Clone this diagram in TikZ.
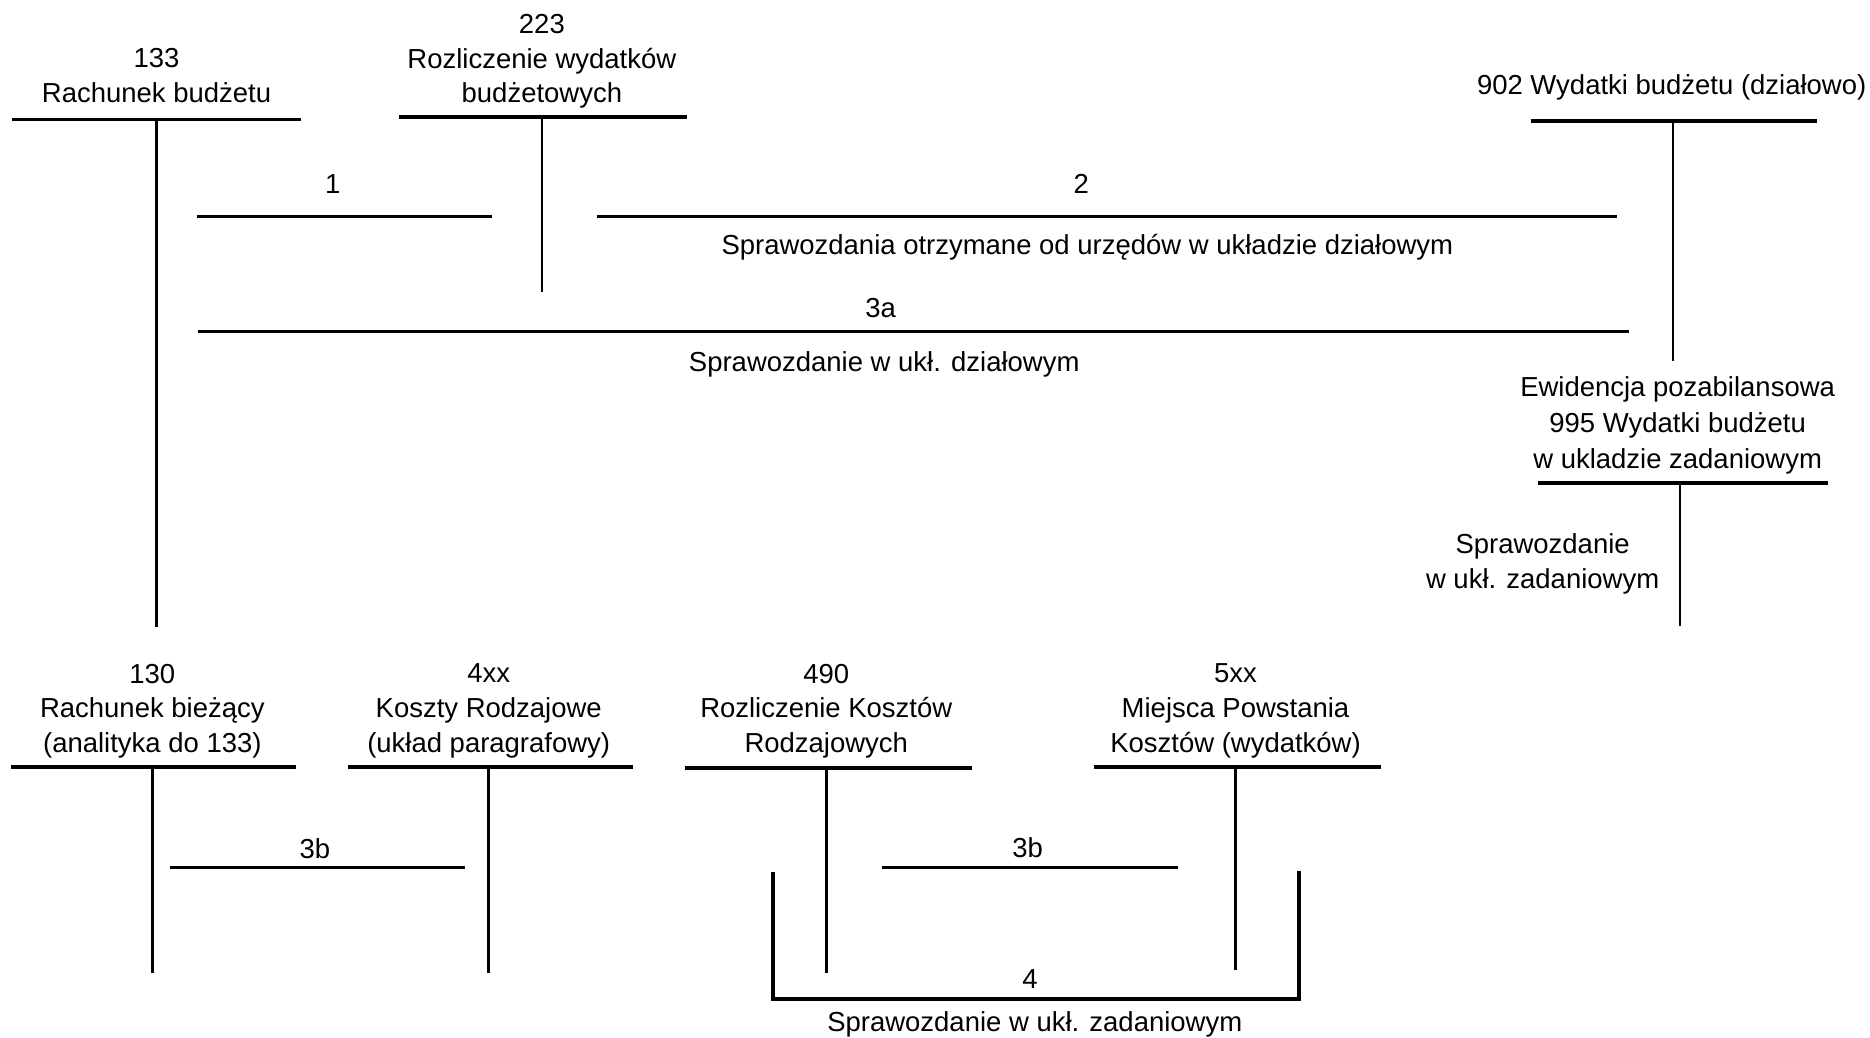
\documentclass[tikz,border=0pt]{standalone}
\usepackage{fontspec}
\setmainfont{Liberation Sans}
\begin{document}
\begin{tikzpicture}[x=1pt,y=-1pt,
  txt/.style={inner sep=0pt, align=center, font=\fontsize{23}{29}\selectfont},
  tbar/.style={line width=3.1pt},
  tstem/.style={line width=2.2pt},
  flow/.style={line width=2.8pt}]
\useasboundingbox (0,0) rectangle (1565,868);
% ---------- titles ----------
\node[txt] (t133) at (131,63) {133\\Rachunek budżetu};
\node[txt] (t223) at (453.5,51.5) {223\\Rozliczenie wydatków\\budżetowych};
\node[txt] (t902) at (1399,73) {902 Wydatki budżetu (działowo)};
\node[txt, font=\fontsize{23}{30}\selectfont] (t995) at (1404,356) {Ewidencja pozabilansowa\\995 Wydatki budżetu\\w ukladzie zadaniowym};
\node[txt] (t130) at (127.5,595) {130\\Rachunek bieżący\\(analityka do 133)};
\node[txt] (t4xx) at (409,595) {4xx\\Koszty Rodzajowe\\(układ paragrafowy)};
\node[txt] (t490) at (691.5,595) {490\\Rozliczenie Kosztów\\Rodzajowych};
\node[txt] (t5xx) at (1034,595) {5xx\\Miejsca Powstania\\Kosztów (wydatków)};
% ---------- T-account coordinates ----------
\coordinate (a133L) at (10,100);   \coordinate (a133R) at (252,100);
\coordinate (a133T) at (131,100);  \coordinate (a133B) at (131,525);
\coordinate (a223L) at (334,98);   \coordinate (a223R) at (575,98);
\coordinate (a223T) at (453.5,98); \coordinate (a223B) at (453.5,244);
\coordinate (a902L) at (1281,101); \coordinate (a902R) at (1521,101);
\coordinate (a902T) at (1400,101); \coordinate (a902B) at (1400,302);
\coordinate (a995L) at (1287,404.5); \coordinate (a995R) at (1530,404.5);
\coordinate (a995T) at (1406,404.5); \coordinate (a995B) at (1406,524);
\coordinate (a130L) at (9,642);    \coordinate (a130R) at (248,642);
\coordinate (a130T) at (127.5,642); \coordinate (a130B) at (127.5,814);
\coordinate (a4xxL) at (291.5,642); \coordinate (a4xxR) at (530,642);
\coordinate (a4xxT) at (409,642);  \coordinate (a4xxB) at (409,814);
\coordinate (a490L) at (573,642.5); \coordinate (a490R) at (813.5,642.5);
\coordinate (a490T) at (691.5,642.5); \coordinate (a490B) at (691.5,814);
\coordinate (a5xxL) at (915.7,642); \coordinate (a5xxR) at (1155.6,642);
\coordinate (a5xxT) at (1034,642); \coordinate (a5xxB) at (1034,812);
\foreach \a in {133,223,902,995,130,4xx,490,5xx}{
  \draw[tbar] (a\a L) -- (a\a R);
  \draw[tstem] (a\a T) -- (a\a B);
}
% ---------- flows ----------
\coordinate (f1a) at (165,181);   \coordinate (f1b) at (412,181);
\coordinate (f2a) at (500,181);   \coordinate (f2b) at (1353,181);
\coordinate (f3aa) at (166,277.5); \coordinate (f3ab) at (1363,277.5);
\coordinate (f3ba) at (142.5,726); \coordinate (f3bb) at (389,726);
\coordinate (f3ca) at (738,726);   \coordinate (f3cb) at (986,726);
\coordinate (f4a) at (647,730);   \coordinate (f4b) at (647,836);
\coordinate (f4c) at (1087,836);  \coordinate (f4d) at (1087,729);
\draw[flow] (f1a) -- (f1b);
\draw[flow] (f2a) -- (f2b);
\draw[flow] (f3aa) -- (f3ab);
\draw[flow] (f3ba) -- (f3bb);
\draw[flow] (f3ca) -- (f3cb);
\draw[flow, line join=miter] (f4a) -- (f4b) -- (f4c) -- (f4d);
% ---------- labels ----------
\node[txt] (l1) at (278.5,154) {1};
\node[txt] (l2) at (905,154) {2};
\node[txt] (s2) at (910,207) {Sprawozdania otrzymane od urzędów w układzie działowym};
\node[txt] (l3a) at (737,258) {3a};
\node[txt] (s3a) at (740,305) {Sprawozdanie w ukł. działowym};
\node[txt] (s995) at (1291,472) {Sprawozdanie\\w ukł. zadaniowym};
\node[txt] (l3b1) at (263.5,710) {3b};
\node[txt] (l3b2) at (860,709) {3b};
\node[txt] (l4) at (862,819) {4};
\node[txt] (s4) at (866,857) {Sprawozdanie w ukł. zadaniowym};
\end{tikzpicture}
\end{document}
